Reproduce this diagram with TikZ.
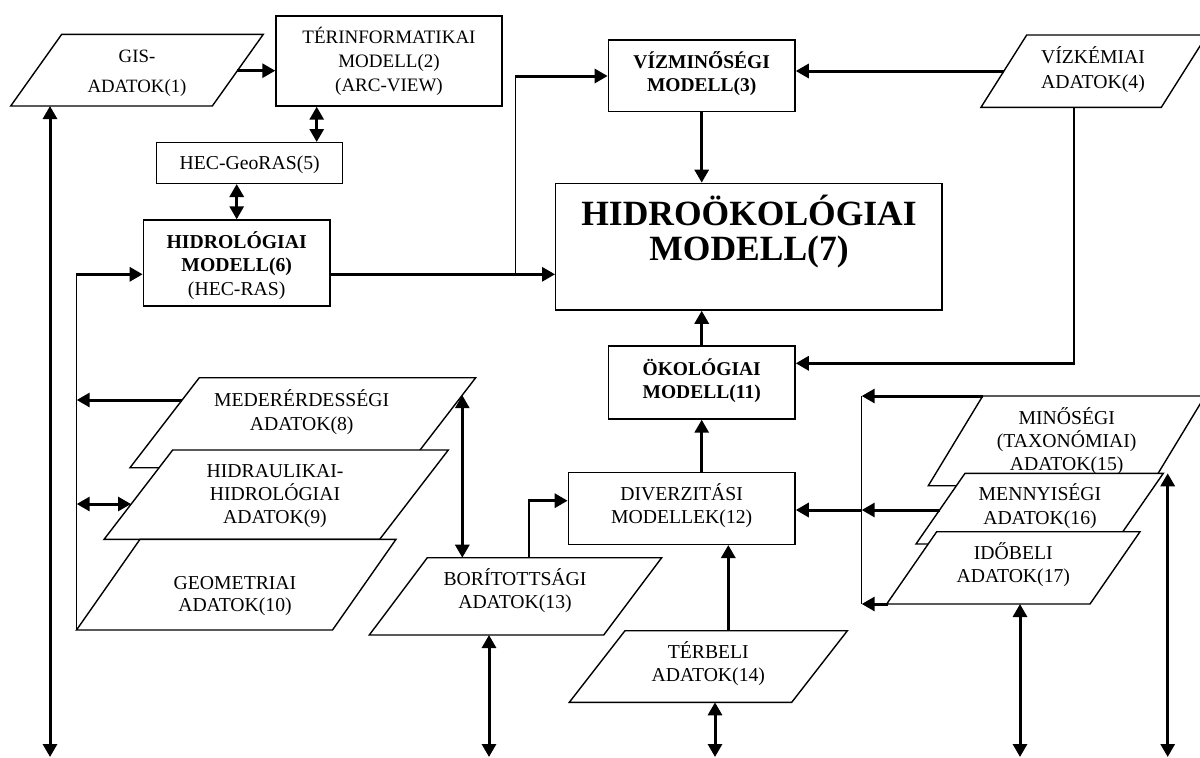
\documentclass[tikz,border=0pt]{standalone}
\usepackage{fontspec}
\setmainfont{Liberation Serif}
\usetikzlibrary{arrows.meta}
\newcommand\tp{\rule{0pt}{0.95em}}
\newcommand\bt{\rule[-0.25em]{0pt}{0pt}}
\newcommand\paral[5]{\draw[bx] (#1,#3) -- (#2,#3) -- ({#2-#5},#4) -- ({#1-#5},#4) -- cycle;}
\tikzset{
 bx/.style={draw, line width=1.4pt, fill=white},
 rbx/.style={bx, inner sep=0pt},
 thk/.style={line width=3pt},
 thn/.style={line width=1.5pt},
 arr/.style={thk,-{Triangle[length=13pt,width=14pt]}},
 darr/.style={thk,{Triangle[length=13pt,width=14pt]}-{Triangle[length=13pt,width=14pt]}},
 txt/.style={align=center, inner sep=0pt, font=\fontsize{19.7}{23.4}\selectfont},
 btxt/.style={align=center, inner sep=0pt, font=\fontsize{19.5}{23.4}\selectfont\bfseries},
}
\begin{document}
\begin{tikzpicture}[x=1pt,y=-1pt]
\useasboundingbox[fill=white] (0,0) rectangle (1200,758);
% rectangles
\node[rbx,minimum width=226pt,minimum height=90pt] (b2) at (389,61) {};
\node[rbx,minimum width=186pt,minimum height=40.6pt] (b5) at (249.7,163) {};
\node[rbx,minimum width=186.7pt,minimum height=86pt] (b6) at (236.7,263) {};
\node[rbx,minimum width=186.7pt,minimum height=71.7pt] (b3) at (701.7,75.9) {};
\node[rbx,minimum width=386.3pt,minimum height=126.7pt] (b7) at (748.9,246.7) {};
\node[rbx,minimum width=186.7pt,minimum height=73pt] (b11) at (701.7,382.5) {};
\node[rbx,minimum width=226.7pt,minimum height=72pt] (b12) at (681.7,508.3) {};
% parallelograms
\paral{61.7}{263.3}{34.3}{106}{51}
\paral{1026.7}{1207}{35}{107.3}{45.7}
\paral{199.3}{475.7}{377.7}{467.7}{69.3}
\paral{172.7}{448.3}{450}{539.3}{68.6}
\paral{140}{396}{539.3}{630}{63.5}
\paral{427.3}{661.7}{557.7}{635}{58}
\paral{625}{847.4}{630.7}{702.3}{55.7}
\paral{982.7}{1205}{396}{485.7}{54.4}
\paral{965}{1163.3}{473.3}{544}{49}
\paral{936.7}{1140}{531.7}{604}{50}
% texts
\node[txt,font=\fontsize{18.8}{30}\selectfont] (t1) at (137,70.8) {\tp GIS-\\ADATOK(1)\bt};
\node[txt,font=\fontsize{19}{24}\selectfont] (t2) at (389,60.8) {\tp TÉRINFORMATIKAI\\MODELL(2)\\(ARC-VIEW)\bt};
\node[txt] (t5) at (249.7,163) {\tp HEC-GeoRAS(5)\bt};
\node[txt,font=\fontsize{19.7}{23.3}\selectfont] (t6) at (236.7,265) {\tp\textbf{HIDROLÓGIAI}\\\textbf{MODELL(6)}\\(HEC-RAS)\bt};
\node[btxt] (t3) at (701.7,73.3) {\tp VÍZMINŐSÉGI\\MODELL(3)\bt};
\node[txt,font=\fontsize{19.7}{25}\selectfont] (t4) at (1093,69.2) {\tp VÍZKÉMIAI\\ADATOK(4)\bt};
\node[btxt,font=\fontsize{35.5}{35}\selectfont\bfseries] (t7) at (749,230.8) {\tp HIDROÖKOLÓGIAI\\MODELL(7)\bt};
\node[btxt] (t11) at (701.7,380) {\tp ÖKOLÓGIAI\\MODELL(11)\bt};
\node[txt] (t12) at (681.7,505) {\tp DIVERZITÁSI\\MODELLEK(12)\bt};
\node[txt] (t8) at (301.7,411.7) {\tp MEDERÉRDESSÉGI\\ADATOK(8)\bt};
\node[txt,font=\fontsize{19.7}{23}\selectfont] (t9) at (275,493.7) {\tp HIDRAULIKAI-\\HIDROLÓGIAI\\ADATOK(9)\bt};
\node[txt,font=\fontsize{19.7}{22.3}\selectfont] (t10) at (235,593.8) {\tp GEOMETRIAI\\ADATOK(10)\bt};
\node[txt] (t13) at (515,590) {\tp BORÍTOTTSÁGI\\ADATOK(13)\bt};
\node[txt] (t14) at (708.3,663.3) {\tp TÉRBELI\\ADATOK(14)\bt};
\node[txt,font=\fontsize{19.7}{23}\selectfont] (t15) at (1066.7,440.3) {\tp MINŐSÉGI\\(TAXONÓMIAI)\\ADATOK(15)\bt};
\node[txt] (t16) at (1040,505.7) {\tp MENNYISÉGI\\ADATOK(16)\bt};
\node[txt] (t17) at (1013.3,564.3) {\tp IDŐBELI\\ADATOK(17)\bt};
% connector points
\coordinate (p1r) at (237,70.7);
\coordinate (p1b) at (50,106);
\coordinate (p4l) at (1004,71);
\coordinate (p4b) at (1074,107.3);
\coordinate (p8l) at (182,400);
\coordinate (p8r) at (462.3,395.2);
\coordinate (p9l) at (131,504);
\coordinate (p10c) at (76.7,630);
\coordinate (p13t) at (529,557.7);
\coordinate (p13a) at (462.3,557.7);
\coordinate (p13b) at (489,635);
\coordinate (p14t) at (728.3,630.7);
\coordinate (p14b) at (715,702.3);
\coordinate (p15l) at (982.7,396);
\coordinate (p16l) at (940,510);
\coordinate (p16r) at (1167.7,473.3);
\coordinate (p17l) at (888.3,604);
\coordinate (p17b) at (1020,604);
\coordinate (hub) at (861.7,510);
\coordinate (lv) at (76.7,274.3);
% connectors
\draw[arr] (p1r) -- (b2.west |- p1r);
\draw[darr] (b5.north -| 316.7,0) -- (b2.south -| 316.7,0);
\draw[darr] (b5.south -| b6.north) -- (b6.north);
\draw[arr] (b6.east |- 0,274.3) -- (b7.west |- 0,274.3);
\draw[thn] (515.7,274.3) -- (515.7,76);
\draw[arr] (514.9,76) -- (b3.west |- 0,76);
\draw[arr] (b3.south) -- (b7.north -| b3.south);
\draw[arr] (p4l) -- (b3.east |- p4l);
\draw[thn] (p4b) -- (1074,363.3);
\draw[arr] (1074.7,363.3) -- (b11.east |- 0,363.3);
\draw[arr] (b11.north) -- (b7.south -| b11.north);
\draw[arr] (b12.north -| b11.north) -- (b11.south);
\draw[thn] (p13t) -- (529,500.7);
\draw[arr] (528.3,500.7) -- (b12.west |- 0,500.7);
\draw[arr] (p14t) -- (b12.south -| p14t);
\draw[arr] (p16l) -- (hub);
\draw[arr] (hub) -- (b12.east |- hub);
\draw[arr] (p15l) -- (861.7,396);
\draw[thn] (861.7,396) -- (861.7,604);
\draw[arr] (p17l) -- (861.7,604);
\draw[arr] (p8l) -- (76.7,400);
\draw[thn] (lv) -- (p10c);
\draw[arr] (75.9,274.3) -- (b6.west |- lv);
\draw[darr] (76.7,504) -- (p9l);
\draw[darr] (p8r) -- (p13a);
\draw[darr] (p1b) -- (50,757);
\draw[darr] (p13b) -- (489,757);
\draw[darr] (p14b) -- (715,757);
\draw[darr] (p17b) -- (1020,757);
\draw[darr] (p16r) -- (1167.7,757);
\end{tikzpicture}
\end{document}
